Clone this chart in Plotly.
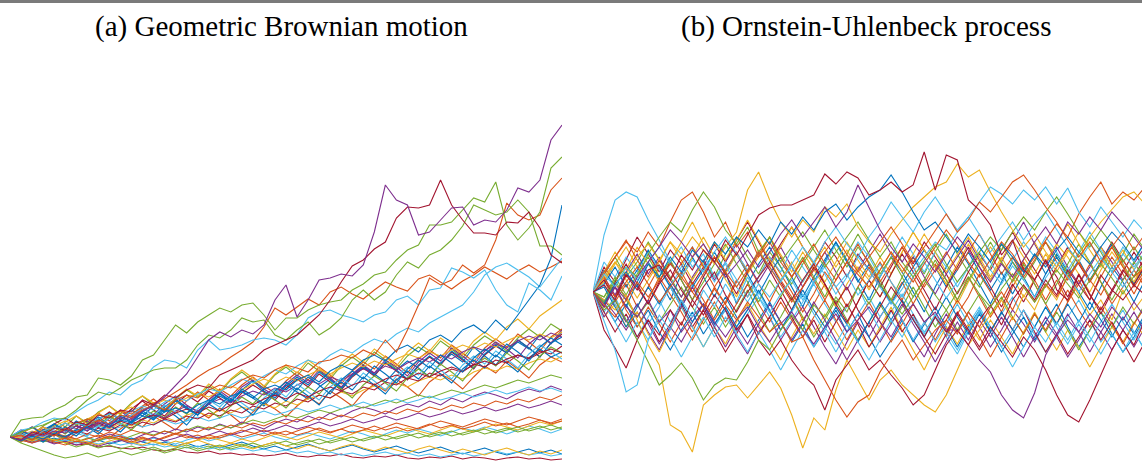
import plotly.graph_objects as go

# time grid (shared by every path)
t = list(range(0, 101, 2))

# ---------------- (a) Geometric Brownian motion, S0 = 100 ----------------
gbm_p1 = [100,97,103,101,106,104,111,108,115,112,
          120,117,126,131,140,152,163,180,197,205,
          200,207,203,212,237,252,220,237,257,259,
          263,261,272,305,352,337,332,302,305,317,
          329,330,312,317,315,327,349,345,357,397,
          412]
gbm_dr1 = [100,97,105,102,109,107,115,112,122,119,
           127,125,137,132,142,139,147,152,149,162,
           167,172,177,187,192,197,202,212,222,237,
           255,271,277,288,295,319,330,329,332,357,
           332,317,304,304,302,315,314,325,309,282,
           274]
gbm_g1 = [100,117,119,120,127,132,140,142,159,157,
          152,161,177,182,197,212,204,215,222,229,
          225,232,234,222,207,219,219,227,232,235,
          237,247,253,262,265,277,287,292,312,312,
          315,327,339,335,355,312,297,309,325,369,
          380]
gbm_g2 = [100,105,109,112,117,119,127,137,145,142,
          149,157,162,167,169,169,177,192,202,199,
          207,219,215,217,202,197,207,215,202,209,
          219,237,247,237,245,262,275,269,282,287,
          297,311,332,327,322,325,337,325,291,291,
          282]
gbm_o1 = [100,102,97,105,101,109,105,112,117,113,
          122,119,127,132,127,137,142,139,147,152,
          149,157,162,159,167,172,169,165,175,177,
          182,179,187,182,197,185,207,232,259,252,
          257,272,264,272,297,334,322,317,322,347,
          359]
gbm_lb1 = [100,107,109,115,119,117,125,132,137,145,
           142,152,157,170,177,175,169,187,197,187,
           189,192,197,199,197,192,202,219,225,227,
           222,219,215,222,225,237,241,232,247,249,
           269,265,259,267,247,232,225,254,247,237,
           261]
gbm_b1 = [100,96,101,98,104,100,107,110,106,113,
          117,114,121,118,125,129,124,132,137,133,
          141,145,139,148,152,147,157,162,155,166,
          172,167,177,182,176,187,192,185,197,202,
          195,207,212,204,217,207,222,237,252,279,
          332]
gbm_lb2 = [100,103,99,106,110,107,114,111,118,123,
           119,126,131,127,135,140,136,143,148,145,
           152,158,154,161,167,163,171,177,173,182,
           188,184,192,198,194,203,209,205,214,220,
           226,232,245,262,270,274,267,260,250,264,
           279]
gbm_o2 = [100,103,99,106,110,107,114,118,115,122,
          126,123,130,134,138,145,152,160,167,172,
          180,187,195,210,229,222,230,238,232,245,
          250,243,238,247,255,250,246,258,262,255,
          248,256,262,270,264,258,266,272,265,270,
          276]
gbm_bu1 = [100,104,99,107,112,106,115,109,118,124,
           117,127,121,131,125,136,128,122,133,141,
           135,146,139,131,143,152,145,138,150,158,
           149,162,171,163,155,167,176,169,160,174,
           183,175,190,181,172,186,195,188,202,193,
           205]
gbm_bu2 = [100,95,101,108,103,96,104,111,105,99,
           108,116,110,121,114,107,118,126,119,129,
           122,113,125,134,128,120,131,140,133,146,
           139,131,144,153,146,158,150,141,155,163,
           157,148,160,171,164,176,168,159,172,180,
           175]
gbm_bu3 = [100,102,106,103,101,107,104,109,112,108,
           114,111,117,114,120,116,122,125,121,127,
           124,130,127,133,129,136,132,138,142,139,
           145,141,147,151,148,154,150,156,160,157,
           162,158,165,169,166,171,168,174,178,175,
           181]
gbm_bu4 = [100,98,95,99,96,101,98,94,99,103,
           100,97,102,106,103,108,105,110,107,113,
           109,115,112,108,114,118,115,121,117,124,
           120,126,130,127,123,129,133,130,136,132,
           139,135,141,145,142,138,144,148,145,151,
           147]
gbm_bu5 = [100,106,102,111,117,110,121,114,125,131,
           123,134,141,132,126,138,147,140,151,144,
           157,165,156,149,162,170,161,174,166,158,
           171,180,172,185,177,168,181,190,183,196,
           188,179,192,201,194,186,199,208,200,213,
           206]
gbm_bu6 = [100,99,103,100,97,101,104,100,96,99,
           102,98,95,99,96,93,97,100,96,99,
           102,98,101,104,100,97,101,104,101,98,
           102,106,103,99,103,107,104,108,105,101,
           105,109,106,110,107,103,107,111,108,104,
           108]
gbm_bu7 = [100,103,110,104,113,119,112,106,117,125,
           118,128,136,127,121,133,142,135,146,139,
           131,144,152,145,137,149,158,150,163,155,
           147,160,169,161,174,166,157,171,180,172,
           185,177,168,182,191,184,197,189,180,194,
           203]
gbm_bu8 = [100,97,100,96,99,95,98,94,97,93,
           96,99,95,92,95,91,94,90,93,89,
           92,95,91,88,91,87,90,93,89,86,
           89,92,88,85,88,91,87,84,87,90,
           86,83,86,89,85,82,85,88,84,87,
           83]
gbm_bu9 = [100,97,104,110,105,114,108,117,124,116,
           127,120,131,138,129,124,136,145,137,148,
           141,152,160,151,144,156,165,157,170,162,
           153,166,175,168,181,173,164,178,187,179,
           192,184,175,189,198,190,203,195,186,200,
           208]
gbm_bu10 = [100,98,102,99,96,100,97,94,98,101,
            97,94,98,95,92,96,93,97,100,97,
            94,98,95,99,103,100,97,101,105,102,
            99,103,107,104,101,105,109,106,103,107,
            111,108,105,109,113,110,107,111,115,112,
            116]
gbm_bu11 = [100,107,101,110,104,98,108,116,109,119,
            126,118,129,122,133,141,132,125,137,146,
            138,150,157,148,141,153,162,154,167,159,
            150,163,172,164,177,170,161,175,184,176,
            189,181,172,186,195,188,179,193,202,194,
            207]
gbm_bu12 = [100,97,101,98,102,99,95,99,96,100,
            97,101,105,102,106,103,107,111,108,112,
            109,113,117,114,118,122,119,123,127,124,
            128,132,129,133,137,134,138,142,139,143,
            147,144,148,152,149,153,157,154,158,162,
            159]
gbm_bu13 = [100,102,105,101,104,108,104,107,111,107,
            110,114,110,113,117,113,116,120,116,119,
            123,119,122,126,122,125,129,125,128,132,
            128,131,135,131,134,138,134,137,141,137,
            140,144,140,143,147,143,146,150,146,149,
            145]
gbm_bu14 = [100,98,96,97,94,95,92,93,90,91,
            89,88,90,87,86,88,85,84,86,83,
            84,82,83,81,82,84,81,80,82,81,
            83,80,79,81,80,82,79,78,80,79,
            81,78,80,79,77,79,80,78,79,77,
            78]
gbm_bu15 = [100,104,98,107,113,106,116,110,103,114,
            122,115,126,119,130,138,129,122,134,143,
            135,147,156,146,139,151,160,152,165,157,
            148,161,170,162,175,167,158,172,181,173,
            186,178,169,183,192,184,197,189,180,194,
            200]
gbm_bu16 = [100,101,97,100,96,99,95,98,102,98,
            101,97,100,96,99,103,99,102,98,101,
            104,100,103,107,103,106,102,105,109,105,
            108,104,107,111,107,110,106,109,113,109,
            112,108,111,115,111,114,110,113,117,113,
            116]
gbm_bu17 = [100,104,109,105,111,116,112,118,123,119,
            125,130,126,132,137,133,139,144,140,146,
            151,147,153,158,154,160,156,162,167,163,
            169,174,170,176,172,178,183,179,185,181,
            187,192,188,194,190,196,201,197,203,199,
            205]
gbm_bu18 = [100,97,94,97,93,96,92,95,91,94,
            97,93,96,100,96,99,103,99,102,106,
            102,105,109,105,108,112,108,111,115,111,
            114,118,114,117,121,117,120,124,120,123,
            127,123,126,130,126,129,133,129,132,136,
            132]
gbm_bu19 = [100,96,99,95,98,94,90,93,89,92,
            88,91,87,90,86,89,92,88,91,87,
            90,93,89,92,95,91,94,97,93,96,
            99,95,98,101,97,100,103,99,102,105,
            101,104,107,103,106,109,105,108,111,107,
            110]
gbm_bu20 = [100,99,96,98,95,97,94,96,93,95,
            92,94,91,93,90,92,89,91,88,90,
            87,89,86,88,85,87,84,86,83,85,
            82,84,81,83,85,82,84,81,83,80,
            82,84,81,83,86,83,85,82,84,81,
            83]
gbm_bu21 = [100,95,103,110,104,115,121,113,124,131,
            122,133,141,134,127,139,148,141,153,146,
            158,167,159,151,163,172,164,177,169,160,
            174,183,175,188,180,171,185,194,186,199,
            191,182,196,205,197,210,218,208,221,229,
            237]
gbm_bu22 = [100,106,101,95,103,110,104,113,120,112,
            105,116,124,117,128,121,112,125,133,126,
            138,130,122,135,144,136,149,141,132,146,
            155,147,160,152,143,157,166,158,171,163,
            154,168,177,169,182,174,165,179,188,180,
            185]
gbm_bu23 = [100,97,101,98,103,100,106,103,109,106,
            112,109,115,112,118,115,121,118,124,121,
            127,124,131,128,134,131,138,135,142,139,
            146,143,150,147,155,152,159,156,164,161,
            168,165,173,170,177,174,182,179,186,183,
            191]
gbm_bu24 = [100,98,103,99,104,101,98,103,100,105,
            102,107,104,101,106,103,108,105,110,107,
            112,109,114,111,116,113,118,115,120,117,
            122,119,124,121,126,123,128,125,130,127,
            132,129,134,131,136,133,138,135,140,137,
            142]
gbm_bu25 = [100,103,96,104,110,103,112,118,111,121,
            114,107,118,126,119,130,123,134,127,119,
            131,140,133,144,137,129,141,150,143,155,
            148,139,152,161,154,146,159,168,160,173,
            165,156,170,179,171,184,176,167,181,190,
            184]
gbm_bu26 = [100,96,101,105,101,107,111,106,113,109,
            116,121,117,123,119,126,131,126,133,138,
            134,141,146,142,149,145,152,157,153,160,
            156,163,168,164,171,167,174,179,175,182,
            178,185,190,186,193,189,196,201,197,204,
            200]
gbm_bu27 = [100,98,105,99,108,114,107,101,111,119,
            112,122,129,121,132,125,116,128,137,130,
            141,134,126,139,148,140,153,145,137,150,
            159,151,164,156,147,161,170,162,175,167,
            158,172,181,173,186,178,169,183,192,185,
            178]
gbm_bu28 = [100,98,102,106,102,108,104,110,114,110,
            116,112,118,122,118,124,128,124,130,126,
            132,136,132,138,142,138,144,140,146,150,
            146,152,156,152,158,162,158,164,160,166,
            170,166,172,176,172,178,182,178,184,188,
            184]
gbm_bu29 = [100,99,96,100,97,94,98,95,92,96,
            99,95,92,96,93,90,94,97,93,90,
            94,91,88,92,95,91,88,92,89,86,
            90,93,89,86,90,87,84,88,91,87,
            84,88,85,82,86,89,85,82,86,83,
            87]
gbm_bu30 = [100,105,110,103,113,107,101,111,118,110,
            121,114,125,133,126,137,130,122,135,144,
            136,148,141,133,146,155,147,160,152,143,
            157,166,158,171,163,154,168,177,169,182,
            174,165,179,188,180,193,185,176,190,199,
            192]
gbm_bu31 = [100,97,94,98,95,92,96,93,97,101,
            98,95,99,96,100,104,101,98,102,99,
            103,107,104,101,105,102,106,110,107,104,
            108,112,109,106,110,114,111,108,112,116,
            113,110,114,118,115,112,116,120,117,114,
            118]
gbm_bu32 = [100,94,90,86,82,79,81,84,80,83,
            86,82,85,88,84,87,90,86,89,92,
            88,91,94,90,93,96,92,95,98,94,
            97,100,96,99,102,98,101,104,100,103,
            106,102,105,108,104,107,110,106,109,112,
            108]

# ---------------- (b) Ornstein-Uhlenbeck process, X0 = 0 ----------------
ou_dr_top = [0,7,-8,17,2,22,27,12,37,22,
             42,30,52,37,57,77,84,87,87,92,
             97,118,108,120,114,97,102,110,100,107,
             140,102,137,132,92,82,67,37,52,22,
             12,32,2,-8,17,-3,-18,2,-8,7,
             -3]
ou_lb_early = [0,57,92,100,95,72,52,30,45,25,
               38,15,28,5,-10,8,-5,12,25,10,
               30,18,-2,15,35,22,5,-12,3,20,
               35,50,42,60,75,58,40,55,70,52,
               68,80,62,45,30,48,35,20,38,25,
               40]
ou_y_deep = [0,-8,-18,-3,-28,-53,-73,-133,-140,-160,
             -113,-103,-95,-93,-106,-93,-80,-96,-123,-156,
             -126,-138,-98,-68,-88,-108,-88,-78,-93,-103,
             -113,-120,-103,-78,-53,-38,-23,-8,-28,-3,
             -18,7,-8,17,-3,-23,-8,-28,2,-18,
             -3]
ou_p_deep = [0,-10,5,-15,-25,-8,-30,-18,-40,-25,
             -12,-30,-45,-28,-15,-35,-50,-32,-20,-38,
             -52,-35,-22,-40,-28,-15,-30,-45,-25,-12,
             -30,-20,-38,-38,-53,-68,-80,-103,-118,-126,
             -101,-63,-43,-28,-40,-22,-35,-15,-28,-10,
             -25]
ou_dr_deep = [0,12,-5,18,5,-12,8,22,2,-15,
              5,20,-3,-20,0,15,30,10,-8,12,
              28,8,-12,5,-18,-35,-15,5,-10,-28,
              -45,-25,-40,-20,-38,-55,-35,-50,-65,-45,
              -58,-78,-103,-123,-130,-108,-83,-58,-38,-53,
              -28]
ou_dr3 = [0,-38,-56,-76,-48,-28,-43,-18,-33,-8,
          -23,-3,-18,-38,-23,-48,-63,-48,-68,-83,
          -93,-118,-88,-73,-58,-78,-68,-83,-96,-113,
          -103,-78,-53,-38,-53,-28,-13,-33,-8,7,
          -8,12,-3,22,7,-8,17,2,22,7,
          27]
ou_or1 = [0,15,-5,10,25,8,-10,5,20,0,
          -15,3,-12,-28,-10,-25,-40,-30,-50,-45,
          -68,-88,-108,-125,-110,-103,-80,-63,-48,-68,
          -53,-38,-28,-42,-20,-35,-15,0,-18,5,
          -10,8,-5,15,30,12,-3,18,32,15,
          25]
ou_g_deep = [0,-18,-8,-28,-48,-70,-93,-83,-71,-86,
             -108,-93,-86,-88,-70,-48,-58,-38,-23,-38,
             -13,-25,-5,-20,5,-12,8,-8,-22,-5,
             12,-3,-18,0,15,-2,-15,3,18,5,
             -10,6,22,8,-6,12,28,14,-2,16,
             30]
ou_lb_deep = [0,-28,-58,-100,-93,-48,-23,-38,-8,-25,
              2,-15,8,-10,15,-5,-20,-2,12,-8,
              10,25,5,18,-3,12,28,10,-5,15,
              30,12,-6,10,25,40,22,8,26,12,
              -5,14,30,15,0,18,34,20,5,22,
              38]
ou_or_top = [0,20,35,50,40,60,45,70,92,100,
             80,55,70,45,60,35,50,30,15,32,
             48,28,12,30,18,5,22,40,25,10,
             28,45,62,48,30,15,33,50,38,20,
             35,52,68,55,78,95,110,88,100,92,
             105]
ou_g_top = [0,-10,12,25,15,38,55,70,60,82,
            100,85,62,48,65,40,55,30,45,60,
            42,25,40,55,70,52,35,50,30,15,
            32,48,28,10,25,40,55,42,60,75,
            62,80,95,78,60,45,62,48,30,45,
            28]
ou_y_top = [0,15,30,18,35,48,32,50,38,55,
            42,28,45,60,102,120,92,70,55,72,
            60,85,75,88,65,50,40,58,72,85,
            95,105,110,128,115,122,100,80,62,45,
            58,40,25,42,30,55,70,82,95,100,
            88]
ou_b_top = [0,-12,8,20,5,28,15,35,20,42,
            30,50,38,55,45,62,48,70,58,75,
            62,80,88,72,85,95,102,117,100,80,
            62,70,55,40,58,45,30,48,35,20,
            38,25,42,55,40,28,45,60,48,32,
            50]
ou_lb_top = [0,18,5,25,12,30,45,28,15,32,
             20,40,55,38,22,40,25,10,28,45,
             30,50,65,48,35,55,70,90,75,60,
             80,95,78,62,75,90,105,98,88,102,
             92,105,88,104,80,65,85,70,55,72,
             60]
ou_p_top = [0,-15,5,-8,15,30,45,62,50,35,
            48,30,15,28,42,25,40,58,72,55,
            70,85,65,80,107,85,62,45,30,48,
            35,20,38,55,42,25,10,28,15,32,
            50,65,48,70,58,75,62,80,68,55,
            40]
ou_or2 = [0,-12,-25,-8,10,-5,12,28,15,0,
          18,35,20,5,22,40,25,8,-10,5,
          22,40,55,38,20,35,50,65,48,30,
          45,62,78,60,72,90,80,95,110,117,
          102,85,70,52,35,50,30,45,60,42,
          58]
ou_band1 = [0,22,5,-15,10,30,12,-8,18,35,
            15,-5,20,-12,8,28,45,25,5,-15,
            10,30,50,32,12,-8,15,35,20,0,
            -20,5,25,45,28,8,-12,10,30,15,
            -5,18,38,20,0,-18,5,25,10,-10,
            12]
ou_band2 = [0,-15,8,-5,-25,-8,15,-3,-20,-40,
            -18,5,-12,10,28,8,-10,12,-5,-28,
            -12,8,-15,-32,-10,12,30,10,-8,15,
            -5,-25,-45,-22,-5,18,0,-20,5,25,
            8,-12,-32,-10,12,-8,15,35,18,-2,
            20]
ou_band3 = [0,10,28,45,25,40,15,30,50,70,
            48,30,12,-5,18,35,55,38,20,40,
            22,5,-15,8,25,12,-5,18,40,60,
            42,25,8,-12,10,28,45,30,15,-5,
            12,30,48,35,18,0,22,40,25,8,
            30]
ou_band4 = [0,-8,-22,-38,-20,-40,-58,-35,-50,-30,
            -12,-32,-18,-45,-62,-40,-25,-48,-30,-15,
            -35,-55,-72,-50,-30,-45,-25,-8,-28,-48,
            -65,-42,-22,-40,-20,-35,-55,-38,-18,-32,
            -50,-30,-45,-65,-48,-28,-40,-22,-38,-55,
            -35]
ou_band5 = [0,18,35,15,30,50,32,15,-5,12,
            30,15,38,55,35,18,40,25,8,28,
            45,62,42,25,45,30,12,-8,15,35,
            18,40,58,38,20,5,25,48,30,12,
            30,50,35,18,38,55,40,20,38,58,
            42]
ou_band6 = [0,-20,-5,-28,-45,-25,-8,-30,-12,8,
            -15,-35,-18,-40,-22,-5,-25,-45,-28,-10,
            8,-12,-30,-15,5,-18,-38,-20,-2,-22,
            -40,-25,-45,-62,-40,-20,-38,-22,-5,-25,
            -42,-60,-45,-25,-8,-28,-50,-35,-18,-40,
            -58]
ou_band7 = [0,25,10,32,55,38,20,42,28,8,
            25,48,30,52,70,50,30,48,65,45,
            28,50,35,15,38,22,5,25,45,28,
            50,35,18,-2,20,38,22,42,60,40,
            22,5,25,45,28,10,30,50,32,15,
            35]
ou_band8 = [0,-10,-30,-12,-35,-18,-40,-58,-38,-20,
            -42,-25,-5,-25,-45,-28,-10,-30,-50,-32,
            -55,-38,-18,-40,-22,-45,-65,-48,-28,-50,
            -32,-15,-35,-55,-35,-18,-40,-60,-42,-25,
            -48,-30,-12,-35,-55,-38,-20,-42,-60,-45,
            -25]
ou_band9 = [0,12,-10,8,-15,5,25,8,-12,10,
            -8,-28,-10,12,-5,15,35,18,0,-20,
            -2,20,5,-15,5,25,8,-10,10,-12,
            8,28,12,-8,15,-5,-25,-8,12,30,
            12,-8,12,-10,8,28,10,-12,5,22,
            5]
ou_band10 = [0,-25,-12,-35,-20,-42,-60,-38,-15,-35,
             -55,-35,-52,-30,-12,-32,-50,-68,-45,-25,
             -42,-22,-40,-58,-38,-55,-35,-15,-38,-58,
             -78,-55,-35,-52,-32,-48,-28,-45,-62,-40,
             -20,-40,-58,-38,-55,-75,-55,-35,-50,-30,
             -45]
ou_band11 = [0,15,-3,20,38,18,35,12,-5,15,
             32,12,30,48,28,10,28,45,25,5,
             22,40,20,2,22,40,58,38,20,35,
             15,-2,18,35,52,32,12,30,50,70,
             48,28,45,25,8,25,45,30,12,28,
             45]
ou_band12 = [0,-5,12,-8,-25,-10,-30,-12,5,-15,
             -32,-15,-35,-18,2,-20,-40,-25,-5,-25,
             -45,-28,-8,-28,-48,-30,-12,-32,-15,5,
             -15,-35,-18,-38,-20,-2,-22,-5,-25,-42,
             -22,-40,-20,-38,-58,-38,-20,-35,-15,-32,
             -12]
ou_band13 = [0,30,15,35,20,40,22,5,25,45,
             28,10,30,12,-5,15,35,20,42,25,
             8,28,48,30,50,35,15,35,55,38,
             20,40,25,5,25,45,30,12,32,50,
             35,55,40,22,40,60,42,25,45,30,
             50]
ou_band14 = [0,-20,-40,-22,-45,-28,-50,-32,-12,-35,
             -18,-40,-60,-42,-22,-42,-25,-5,-25,-45,
             -28,-50,-30,-12,-32,-55,-38,-18,-40,-22,
             -45,-62,-42,-22,-40,-58,-40,-20,-38,-18,
             -40,-60,-42,-62,-45,-28,-48,-30,-50,-70,
             -50]
ou_band15 = [0,8,25,5,22,42,25,5,-15,5,
             22,40,20,38,18,-2,18,35,15,-5,
             15,32,50,30,10,28,8,-12,8,25,
             42,25,5,22,40,20,2,20,-2,18,
             38,18,35,15,32,12,30,48,28,8,
             25]
ou_band16 = [0,-12,5,-18,-35,-15,-32,-50,-30,-48,
             -28,-10,-30,-12,8,-12,-30,-10,-28,-45,
             -25,-8,-28,-48,-28,-10,-30,-50,-32,-12,
             -30,-48,-28,-8,-25,-45,-65,-45,-25,-42,
             -22,-38,-18,2,-18,-35,-15,-32,-52,-32,
             -15]
ou_band17 = [0,20,40,22,45,28,10,30,12,35,
             55,35,18,38,20,42,25,45,65,45,
             28,10,30,50,32,15,35,18,40,60,
             42,25,8,28,48,30,12,32,52,35,
             18,38,20,40,60,42,25,45,28,10,
             32]
ou_band18 = [0,-15,10,28,8,-12,10,30,12,-8,
             15,35,18,-2,20,40,22,2,-18,5,
             25,8,-12,-30,-10,12,-5,18,38,20,
             2,-18,5,25,45,25,5,-15,8,-10,
             12,32,15,-5,18,-2,-22,0,20,40,
             22]
ou_band19 = [0,8,-12,-30,-12,-32,-15,5,-15,-35,
             -55,-35,-15,-35,-18,0,-20,-38,-20,-2,
             -22,-40,-60,-40,-22,-5,-25,-8,-28,-48,
             -30,-50,-32,-12,-32,-15,-35,-55,-38,-18,
             -35,-15,-35,-52,-32,-50,-30,-12,-30,-48,
             -28]
ou_band20 = [0,-5,15,-3,18,35,15,32,12,-8,
             10,28,48,28,10,-10,12,-5,15,35,
             15,-5,18,38,58,38,18,35,15,-5,
             12,32,12,-8,12,30,50,30,10,28,
             8,-12,8,28,48,30,10,-8,12,30,
             12]
ou_band21 = [0,-25,-8,-30,-12,-32,-52,-35,-15,5,
             -15,-35,-55,-35,-52,-32,-12,-30,-48,-30,
             -10,-28,-48,-68,-48,-30,-50,-32,-12,-32,
             -50,-70,-50,-30,-48,-28,-45,-25,-45,-65,
             -45,-25,-42,-22,-40,-60,-40,-58,-38,-20,
             -40]
ou_band22 = [0,12,30,12,-6,12,30,50,32,12,
             30,50,32,52,72,52,32,12,30,10,
             28,45,25,42,22,2,22,40,20,38,
             58,40,20,38,55,35,15,35,15,32,
             50,30,48,68,48,28,45,25,42,22,
             40]
ou_band23 = [0,5,-15,-35,-15,5,-12,8,-10,-30,
             -12,-32,-15,-35,-18,2,-18,-38,-18,2,
             -18,-35,-15,-32,-50,-30,-10,-28,-8,-28,
             -45,-25,-5,-25,-42,-22,-40,-20,-38,-55,
             -35,-15,-32,-12,-30,-10,-28,-45,-25,-42,
             -22]
ou_band24 = [0,18,35,52,32,15,32,12,28,45,
             25,5,22,40,20,38,55,35,15,32,
             12,-8,12,30,48,28,10,28,45,25,
             5,22,40,22,40,58,38,18,35,15,
             32,50,30,12,30,10,28,45,25,5,
             22]
ou_band25 = [0,-12,-30,-50,-30,-48,-28,-45,-65,-45,
             -25,-45,-25,-42,-60,-40,-58,-78,-58,-38,
             -55,-35,-52,-32,-50,-68,-48,-28,-45,-25,
             -42,-22,-40,-58,-38,-18,-35,-55,-75,-55,
             -35,-50,-30,-48,-28,-45,-62,-42,-60,-40,
             -58]

titles = ["(a) Geometric Brownian motion", "(b) Ornstein-Uhlenbeck process"]

# ---------------- styling ----------------
COL = {"blue": "#0072BD", "orange": "#D95319", "yellow": "#EDB120",
       "purple": "#7E2F8E", "green": "#77AC30", "lblue": "#4DBEEE",
       "dred": "#A2142F"}

gbm_paths = [
    (gbm_bu1, "blue"), (gbm_bu2, "orange"), (gbm_bu3, "yellow"), (gbm_bu4, "purple"),
    (gbm_bu5, "green"), (gbm_bu6, "lblue"), (gbm_bu7, "dred"), (gbm_bu8, "blue"),
    (gbm_bu9, "orange"), (gbm_bu10, "yellow"), (gbm_bu11, "purple"), (gbm_bu12, "green"),
    (gbm_bu13, "lblue"), (gbm_bu14, "dred"), (gbm_bu15, "blue"), (gbm_bu16, "orange"),
    (gbm_bu17, "yellow"), (gbm_bu18, "purple"), (gbm_bu19, "green"), (gbm_bu20, "lblue"),
    (gbm_bu21, "yellow"), (gbm_bu22, "blue"), (gbm_bu23, "dred"), (gbm_bu24, "orange"),
    (gbm_bu25, "green"), (gbm_bu26, "purple"), (gbm_bu27, "lblue"), (gbm_bu28, "dred"),
    (gbm_bu29, "yellow"), (gbm_bu30, "blue"), (gbm_bu31, "orange"), (gbm_bu32, "green"),
    (gbm_o2, "orange"), (gbm_lb2, "lblue"), (gbm_b1, "blue"), (gbm_lb1, "lblue"),
    (gbm_o1, "orange"), (gbm_g2, "green"), (gbm_g1, "green"), (gbm_dr1, "dred"),
    (gbm_p1, "purple"),
]
ou_paths = [
    (ou_band1, "blue"), (ou_band2, "orange"), (ou_band3, "yellow"), (ou_band4, "purple"),
    (ou_band5, "green"), (ou_band6, "lblue"), (ou_band7, "dred"), (ou_band8, "blue"),
    (ou_band9, "orange"), (ou_band10, "yellow"), (ou_band11, "purple"), (ou_band12, "green"),
    (ou_band13, "lblue"), (ou_band14, "dred"), (ou_band15, "blue"), (ou_band16, "orange"),
    (ou_band17, "yellow"), (ou_band18, "dred"), (ou_band19, "lblue"), (ou_band20, "green"),
    (ou_band21, "purple"), (ou_band22, "yellow"), (ou_band23, "blue"), (ou_band24, "orange"),
    (ou_band25, "lblue"),
    (ou_lb_early, "lblue"), (ou_y_deep, "yellow"), (ou_p_deep, "purple"),
    (ou_dr_deep, "dred"), (ou_dr3, "dred"), (ou_or1, "orange"), (ou_g_deep, "green"),
    (ou_lb_deep, "lblue"), (ou_or_top, "orange"), (ou_g_top, "green"), (ou_y_top, "yellow"),
    (ou_b_top, "blue"), (ou_lb_top, "lblue"), (ou_p_top, "purple"), (ou_or2, "orange"),
    (ou_dr_top, "dred"),
]

W, H = 1142, 461
fig = go.Figure()
for y, c in gbm_paths:
    fig.add_trace(go.Scatter(x=t[:len(y)], y=y, mode="lines", xaxis="x", yaxis="y",
                             line=dict(color=COL[c], width=1.1), hoverinfo="skip"))
for y, c in ou_paths:
    fig.add_trace(go.Scatter(x=t[:len(y)], y=y, mode="lines", xaxis="x2", yaxis="y2",
                             line=dict(color=COL[c], width=1.1), hoverinfo="skip"))

ax_common = dict(visible=False, showgrid=False, zeroline=False, fixedrange=True)
title_font = dict(family="Liberation Serif, Times New Roman, serif", size=29, color="black")
fig.update_layout(
    width=W, height=H, margin=dict(l=0, r=0, t=0, b=0),
    paper_bgcolor="white", plot_bgcolor="white", showlegend=False,
    xaxis=dict(domain=[10 / W, 562 / W], range=[0, 100], **ax_common),
    yaxis=dict(domain=[0, 1], range=[76, 537], **ax_common),
    xaxis2=dict(domain=[593 / W, 1.0], range=[0, 100 * (W - 593) / 552], anchor="y2", **ax_common),
    yaxis2=dict(domain=[0, 1], range=[-169, 292], anchor="x2", **ax_common),
    shapes=[dict(type="rect", xref="paper", yref="paper", x0=0, x1=1,
                 y0=1 - 3 / H, y1=1, fillcolor="#7a7a7a", line=dict(width=0))],
    annotations=[
        dict(text=titles[0], xref="paper", yref="paper", x=281 / W, y=1 - 26 / H,
             xanchor="center", yanchor="middle", showarrow=False, font=title_font),
        dict(text=titles[1], xref="paper", yref="paper", x=866 / W, y=1 - 26 / H,
             xanchor="center", yanchor="middle", showarrow=False, font=title_font),
    ],
)

fig.write_html("out.html", config={"displayModeBar": False},
               post_script="document.body.style.margin='0px';document.body.style.overflow='hidden';")
